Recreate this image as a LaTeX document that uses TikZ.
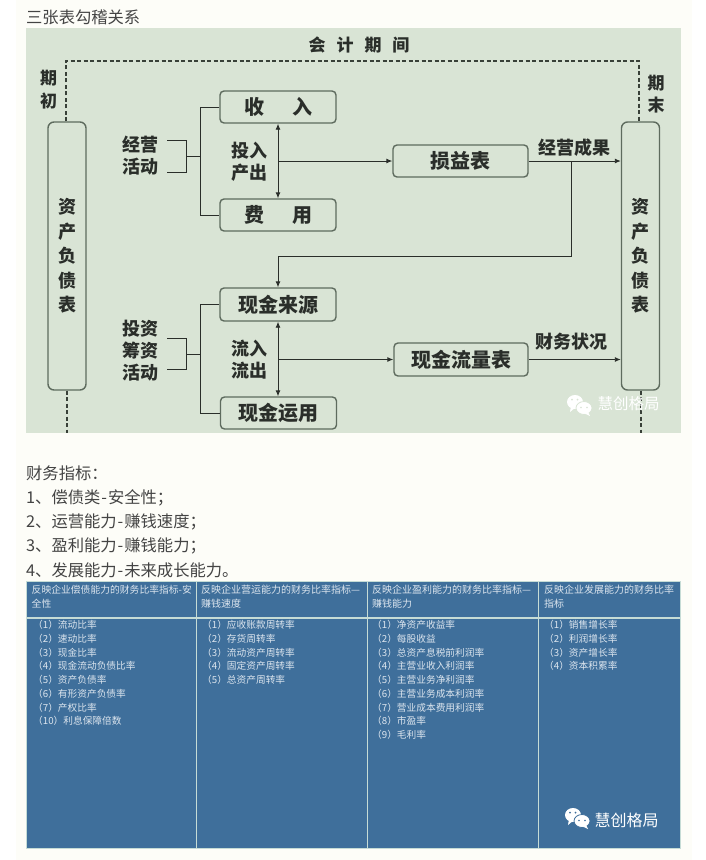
\documentclass[tikz,border=0pt]{standalone}
\usepackage{fontspec}
\usepackage{xcolor}
\usepackage{tikz}
\usetikzlibrary{arrows.meta,positioning,calc,shapes.misc}
\newfontfamily\cjk{Noto Sans CJK SC}
\definecolor{paperbg}{HTML}{FDFDF8}
\definecolor{panelbg}{HTML}{D9E4D5}
\definecolor{boxline}{HTML}{5E6B5E}
\definecolor{inkdark}{HTML}{2A2E2A}
\definecolor{tablebg}{HTML}{3F6F9B}
\definecolor{tablerule}{HTML}{C6DCD6}
\definecolor{tabletext}{HTML}{DCE5EE}
\definecolor{bodytext}{HTML}{444444}
\newcommand{\chaticon}[4]{%
  \fill[#4] (#1,#2) ellipse (8 and 7);
  \fill[#4] (#1-4,#2+4) -- (#1-5,#2+10) -- (#1+1,#2+5) -- cycle;
  \fill[#4,draw=#3,line width=0.8pt] (#1+9,#2+6) ellipse (8 and 6.5);
  \fill[#4] (#1+13,#2+10) -- (#1+15,#2+14) -- (#1+9,#2+11) -- cycle;
  \fill[#3] (#1-3,#2-2.5) circle (1); \fill[#3] (#1+2.5,#2-2.5) circle (1);
  \fill[#3] (#1+6,#2+5.5) circle (0.9); \fill[#3] (#1+12,#2+5.5) circle (0.9);}
\newcommand{\hyph}{\hspace{1pt}-\hspace{1pt}}
\tikzset{
  stmtbox/.style={draw=boxline,line width=1.4pt,rounded corners=4pt,fill=panelbg,
    font=\cjk\bfseries\fontsize{20}{24}\selectfont,text=inkdark,inner sep=0pt,anchor=center},
  sidebox/.style={stmtbox,minimum width=38pt,minimum height=268pt,align=center,rounded corners=6pt,
    font=\cjk\bfseries\fontsize{18}{24.5}\selectfont},
  lbl/.style={font=\cjk\bfseries\fontsize{18}{22}\selectfont,text=inkdark,align=center,inner sep=0pt},
  thin line/.style={draw=inkdark,line width=0.9pt},
  dash line/.style={draw=boxline!60!black,line width=1.3pt,dash pattern=on 4pt off 2.5pt},
  flow/.style={thin line,-{Latex[length=6pt,width=5pt]}},
  both flow/.style={thin line,{Latex[length=6pt,width=5pt]}-{Latex[length=6pt,width=5pt]}},
  bodyline/.style={font=\cjk\fontsize{16.3}{16.3}\selectfont,text=bodytext,anchor=west,inner sep=0pt},
  thead/.style={font=\cjk\fontsize{10}{14}\selectfont,text=tabletext,anchor=north west,inner sep=0pt,align=left},
  titem/.style={font=\cjk\fontsize{9.7}{9.7}\selectfont,text=tabletext,anchor=west,inner sep=0pt},
  mark text/.style={font=\cjk\fontsize{#1}{#1}\selectfont,text=white,inner sep=0pt}
}
\begin{document}
\begin{tikzpicture}[x=1pt,y=-1pt]
\useasboundingbox (0,0) rectangle (706,860);
\fill[white] (0,0) rectangle (706,860);
\fill[paperbg] (16,0) rectangle (692,860);
\fill[panelbg] (26,28) rectangle (681,433);
\node[bodyline] (title) at (26,17) {三张表勾稽关系};
% statement boxes
\node[sidebox] (open) at (67,256) {资\\产\\负\\债\\表};
\node[sidebox] (close) at (640.5,256) {资\\产\\负\\债\\表};
\node[stmtbox,minimum width=116pt,minimum height=32pt] (income) at (278,107) {收\hspace{28pt}入};
\node[stmtbox,minimum width=116pt,minimum height=32pt] (expense) at (278,215) {费\hspace{28pt}用};
\node[stmtbox,minimum width=135pt,minimum height=32pt] (pnl) at (460.5,161) {损益表};
\node[stmtbox,minimum width=116pt,minimum height=33pt] (cashin) at (278,304.5) {现金来源};
\node[stmtbox,minimum width=116pt,minimum height=32pt] (cashout) at (278.5,413) {现金运用};
\node[stmtbox,minimum width=134pt,minimum height=33pt] (cashflow) at (461,359.5) {现金流量表};
% labels
\node[lbl,font=\cjk\bfseries\fontsize{17}{17}\selectfont] (period) at (359,45) {会\hspace{11pt}计\hspace{11pt}期\hspace{11pt}间};
\node[lbl,font=\cjk\bfseries\fontsize{17}{23}\selectfont] (begin) at (48.5,90) {期\\初};
\node[lbl,font=\cjk\bfseries\fontsize{17}{22}\selectfont] (end) at (656,94) {期\\末};
\node[lbl] (opsact) at (140,156) {经营\\活动};
\node[lbl] (inout) at (249,161.5) {投入\\产出};
\node[lbl] (result) at (574,148) {经营成果};
\node[lbl] (invact) at (140,350.5) {投资\\筹资\\活动};
\node[lbl] (flowio) at (249,359.5) {流入\\流出};
\node[lbl] (status) at (571,342) {财务状况};
% dashed period line
\coordinate (dashl) at (66,61); \coordinate (dashr) at (639,61);
\coordinate (footl) at (67,433); \coordinate (footr) at (641,433);
\draw[dash line] (open.north -| dashl) -- (dashl) -- (dashr) -- (close.north -| dashr);
\draw[dash line] (open.south -| footl) -- (footl);
\draw[dash line] (close.south -| footr) -- (footr);
% operating activities
\coordinate (opsa) at (167,140); \coordinate (opsb) at (186,140);
\coordinate (opsc) at (186,172); \coordinate (opsd) at (167,172);
\coordinate (opse) at (186,156); \coordinate (opsf) at (200,156);
\draw[thin line] (opsa) -- (opsb) -- (opsc) -- (opsd);
\draw[thin line] (opse) -- (opsf);
\draw[thin line] (income.west) -- (income.west -| opsf) -- (expense.west -| opsf) -- (expense.west);
\draw[both flow] (income.south) -- (expense.north);
\draw[flow] (income.south |- pnl.west) -- (pnl.west);
\draw[flow] (pnl.east) -- (close.west |- pnl.east);
\coordinate (drop) at (571,161);
\coordinate (turn) at (571,256);
\draw[flow] (drop) -- (turn) -- (turn -| cashin.north) -- (cashin.north);
% investing and financing
\coordinate (inva) at (167,338); \coordinate (invb) at (186,338);
\coordinate (invc) at (186,369); \coordinate (invd) at (167,369);
\coordinate (inve) at (186,354); \coordinate (invf) at (200,354);
\draw[thin line] (inva) -- (invb) -- (invc) -- (invd);
\draw[thin line] (inve) -- (invf);
\draw[thin line] (cashin.west) -- (cashin.west -| invf) -- (cashout.west -| invf) -- (cashout.west);
\draw[both flow] (cashin.south) -- (cashin.south |- cashout.north);
\draw[flow] (cashin.south |- cashflow.west) -- (cashflow.west);
\draw[flow] (cashflow.east) -- (close.west |- cashflow.east);
% watermark on the panel
\chaticon{575}{402}{panelbg}{white}
\node[mark text=15.5] (markone) at (628.5,404) {慧创格局};
% text lines
\node[bodyline] (lineA) at (26,473.5) {财务指标：};
\node[bodyline] (lineB) at (26,498) {1、偿债类\hyph 安全性；};
\node[bodyline] (lineC) at (26,522) {2、运营能力\hyph 赚钱速度；};
\node[bodyline] (lineD) at (26,546) {3、盈利能力\hyph 赚钱能力；};
\node[bodyline] (lineE) at (26,570) {4、发展能力\hyph 未来成长能力。};
% ratio table
\fill[tablebg] (26,581) rectangle (680,848);
\draw[tablerule,line width=1pt] (26.5,581.5) rectangle (680,848);
\draw[tablerule,line width=2pt] (26,618) -- (680,618);
\draw[tablerule,line width=1pt] (196,581) -- (196,848);
\draw[tablerule,line width=1pt] (367,581) -- (367,848);
\draw[tablerule,line width=1pt] (538,581) -- (538,848);
\node[thead,font=\cjk\fontsize{9.8}{14}\selectfont] (heada) at (31.5,585) {反映企业偿债能力的财务比率指标-安\\全性};
\node[thead] (headb) at (201,585) {反映企业营运能力的财务比率指标—\\赚钱速度};
\node[thead] (headc) at (372,585) {反映企业盈利能力的财务比率指标—\\赚钱能力};
\node[thead] (headd) at (544,585) {反映企业发展能力的财务比率\\指标};
\node[titem] (aone) at (33,625) {（1）流动比率};
\node[titem] (atwo) at (33,638.5) {（2）速动比率};
\node[titem] (athree) at (33,652.5) {（3）现金比率};
\node[titem] (afour) at (33,666) {（4）现金流动负债比率};
\node[titem] (afive) at (33,680) {（5）资产负债率};
\node[titem] (asix) at (33,693.5) {（6）有形资产负债率};
\node[titem] (aseven) at (33,707.5) {（7）产权比率};
\node[titem] (aten) at (33,721) {（10）利息保障倍数};
\node[titem] (bone) at (202,625) {（1）应收账款周转率};
\node[titem] (btwo) at (202,638.5) {（2）存货周转率};
\node[titem] (bthree) at (202,652.5) {（3）流动资产周转率};
\node[titem] (bfour) at (202,666) {（4）固定资产周转率};
\node[titem] (bfive) at (202,680) {（5）总资产周转率};
\node[titem] (cone) at (372,625) {（1）净资产收益率};
\node[titem] (ctwo) at (372,638.5) {（2）每股收益};
\node[titem] (cthree) at (372,652.5) {（3）总资产息税前利润率};
\node[titem] (cfour) at (372,666) {（4）主营业收入利润率};
\node[titem] (cfive) at (372,680) {（5）主营业务净利润率};
\node[titem] (csix) at (372,693.5) {（6）主营业务成本利润率};
\node[titem] (cseven) at (372,707.5) {（7）营业成本费用利润率};
\node[titem] (ceight) at (372,721) {（8）市盈率};
\node[titem] (cnine) at (372,735) {（9）毛利率};
\node[titem] (done) at (544,625) {（1）销售增长率};
\node[titem] (dtwo) at (544,638.5) {（2）利润增长率};
\node[titem] (dthree) at (544,652.5) {（3）资产增长率};
\node[titem] (dfour) at (544,666) {（4）资本积累率};
% watermark on the table
\chaticon{573}{815}{tablebg}{white}
\node[mark text=16] (marktwo) at (626.5,820) {慧创格局};
\end{tikzpicture}
\end{document}
